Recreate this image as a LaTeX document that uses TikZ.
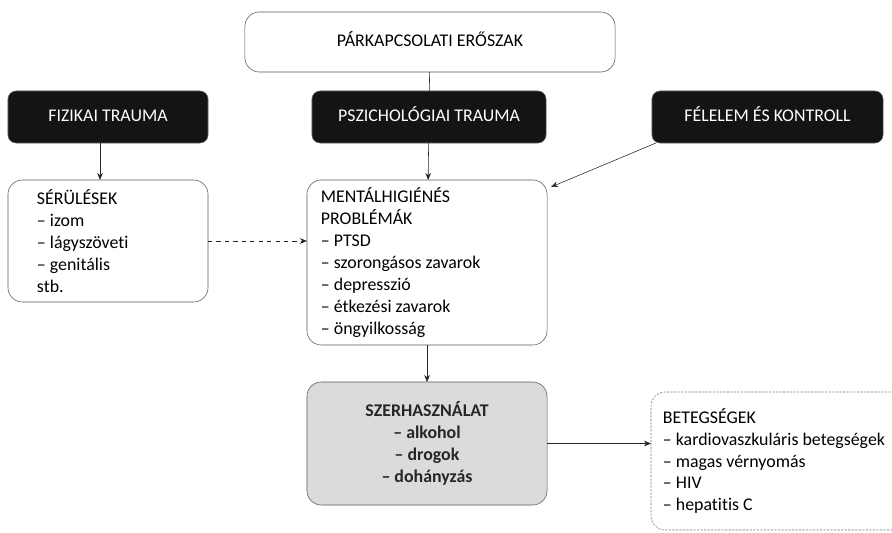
\documentclass[tikz,border=0pt]{standalone}
\usepackage{fontspec}
\setmainfont{Carlito}[Ligatures=NoCommon]
\usetikzlibrary{arrows.meta}

\begin{document}
\begin{tikzpicture}[x=0.025cm, y=-0.025cm,
    every node/.style={font=\fontsize{12.7}{15.6}\selectfont, outer sep=0pt, inner sep=0pt},
    box/.style={draw=black!65, rounded corners=0.36cm, fill=white},
    oneline/.style={text height=1.6ex, text depth=0.3ex},
    dark/.style={oneline, draw=black!60, fill=black!92, text=white, rounded corners=0.2cm, minimum height=1.3cm},
    arrow/.style={draw=black!85, -{Stealth[length=5pt, width=4pt]}}]
    \useasboundingbox (0,0) rectangle (892,532);

    \node[box, oneline, minimum width=9.25cm, minimum height=1.5cm](viol) at (430, 42) {PÁRKAPCSOLATI ERŐSZAK};

    \node[dark, minimum width=5cm](fiz) at (108, 117) {FIZIKAI TRAUMA};
    \node[dark, minimum width=5.85cm](psz) at (429, 117) {PSZICHOLÓGIAI TRAUMA};
    \node[dark, minimum width=5.775cm](fel) at (767.5, 117) {FÉLELEM ÉS KONTROLL};

    \node[box, minimum width=5cm, minimum height=3.05cm, text width=3.55cm, align=flush left](ser) at (108, 241)
        {SÉRÜLÉSEK\\– izom\\– lágyszöveti\\– genitális\\stb.};
    \node[box, minimum width=6cm, minimum height=4.125cm, text width=5.3cm, align=flush left](ment) at (427, 262.5)
        {MENTÁLHIGIÉNÉS\\PROBLÉMÁK\\– PTSD\\– szorongásos zavarok\\– depresszió\\– étkezési zavarok\\– öngyilkosság};
    \node[box, fill=black!14, minimum width=6cm, minimum height=3.075cm, align=center, font=\fontsize{12.7}{15.6}\selectfont\bfseries, text=black!85](szer) at (427, 443.5)
        {SZERHASZNÁLAT\\– alkohol\\– drogok\\– dohányzás};
    \node[box, draw=black!55, dash pattern=on 1.5pt off 1pt, inner xsep=0.3cm, minimum height=3.45cm, text width=5.75cm, align=flush left](beteg) at (778, 461)
        {BETEGSÉGEK\\– kardiovaszkuláris betegségek\\– magas vérnyomás\\– HIV\\– hepatitis C};

    \coordinate (mentne) at (551, 187);

    \draw[draw=black!85] (viol) -- (psz);
    \draw[arrow] ([xshift=-0.2cm]fiz.south) -- ([xshift=-0.2cm]ser.north);
    \draw[arrow] (psz) -- (ment);
    \draw[arrow] ([xshift=0.1cm]fel.south west) -- (mentne);
    \draw[arrow, dashed] (ser.east) -- (ser.east -| ment.west);
    \draw[arrow] (ment) -- (szer);
    \draw[arrow] (szer.east) -- (szer.east -| beteg.west);
\end{tikzpicture}
\end{document}
